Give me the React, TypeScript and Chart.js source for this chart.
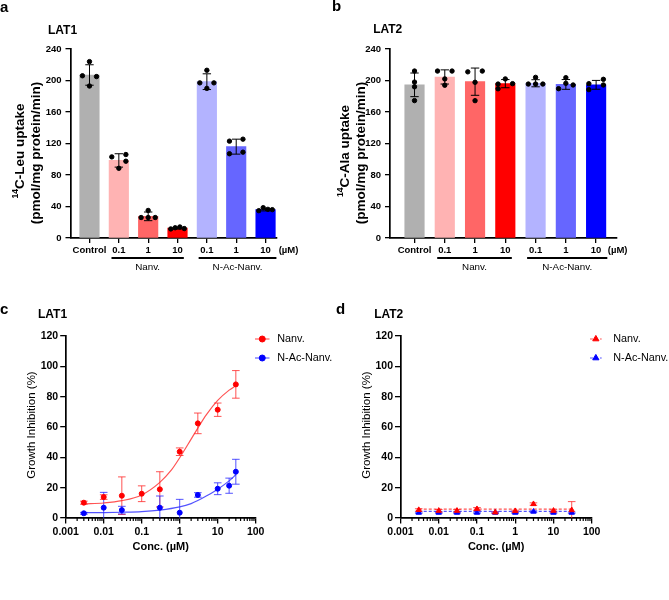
import React, { useEffect, useRef } from "react";
import { Chart, registerables } from "chart.js";

Chart.register(...registerables);

const FAMILY = "'Liberation Sans', Arial, Helvetica, sans-serif";
const fnt = (size: number, bold = true) => `${bold ? "bold " : ""}${size}px ${FAMILY}`;

// ---------------- data: panels a & b ----------------
const CATEGORIES = ["Control", "0.1", "1", "10", "0.1", "1", "10"];
const GROUP_LABELS = ["Nanv.", "N-Ac-Nanv."];
const UNIT_LABEL = "(µM)";
const BAR_COLORS = ["#b0b0b0", "#ffb3b3", "#ff6666", "#ff0000", "#b3b3ff", "#6666ff", "#0000ff"];

const A_MEAN = [207, 98.5, 27.5, 12.5, 198.5, 116, 36];
const A_SD = [13, 8.5, 5.5, 1.2, 10, 9.5, 1.6];
const A_POINTS = [
  [224, 206, 205, 193],
  [103, 106, 97.5, 88.5],
  [35, 26, 26, 26],
  [11.5, 13, 14, 12],
  [213, 197, 197, 190],
  [123, 125.5, 107, 109],
  [34.7, 38.5, 36.4, 36],
];
const A_JITTER = [
  [0, -0.24, 0.24, 0],
  [-0.24, 0.24, 0.24, 0],
  [0, -0.24, 0, 0.24],
  [-0.23, -0.08, 0.08, 0.23],
  [0, -0.24, 0.24, 0],
  [-0.23, 0.23, -0.23, 0.23],
  [-0.23, -0.08, 0.08, 0.23],
];

const B_MEAN = [194.5, 204.5, 198.5, 196, 196.5, 195, 194.5];
const B_SD = [15, 9, 17.3, 5.2, 4.5, 6.2, 5.6];
const B_POINTS = [
  [212, 198, 192, 174.5],
  [212, 212, 202, 194],
  [211, 212, 197.7, 174.4],
  [202, 196, 195.5, 189.5],
  [204, 195.5, 195.5, 195.5],
  [203.6, 196.4, 194.3, 189.6],
  [201.5, 196, 194.3, 188.4],
];
const B_JITTER = [
  [0, 0, 0, 0],
  [-0.24, 0.24, 0, 0],
  [-0.24, 0.24, 0, 0],
  [0, 0.24, -0.24, -0.24],
  [0, -0.24, 0, 0.24],
  [0, 0, 0.24, -0.24],
  [0.24, -0.24, 0.24, -0.24],
];

// ---------------- data: panels c & d ----------------
const LOG_TICKS = [0.001, 0.01, 0.1, 1, 10, 100];
const LOG_TICK_LABELS = ["0.001", "0.01", "0.1", "1", "10", "100"];
const MINOR_MULTIPLES = [2, 3, 4, 5, 6, 7, 8, 9];
const SERIES_LABELS = ["Nanv.", "N-Ac-Nanv."];

const C_NANV_CONC = [0.003, 0.01, 0.03, 0.1, 0.3, 1, 3, 10, 30];
const C_NANV = [10.1, 13.8, 14.7, 16, 18.9, 43.7, 62.4, 71.4, 88.1];
const C_NANV_SD = [1, 1.5, 12.4, 5.2, 11.6, 2.5, 6.8, 4.4, 9.1];
const C_NANV_FIT_X = [0.003, 0.01, 0.03, 0.1, 0.3, 0.6, 1, 2, 3, 5, 10, 20, 30];
const C_NANV_FIT_Y = [9.3, 9.9, 11.4, 15.2, 23.5, 31.5, 39.7, 52, 59.3, 68, 77.5, 84.3, 87.2];

const C_NAC_CONC = [0.003, 0.01, 0.03, 0.3, 1, 3, 10, 20, 30];
const C_NAC = [3.1, 6.8, 5.2, 6.8, 3.5, 15.2, 19.3, 21.3, 30.5];
const C_NAC_SD = [0.6, 10.1, 2.5, 7.7, 8.8, 1.5, 3.9, 5, 8.2];
const C_NAC_FIT_X = [0.003, 0.01, 0.03, 0.1, 0.3, 1, 2, 3, 5, 10, 20, 30];
const C_NAC_FIT_Y = [3.5, 3.6, 3.8, 4.2, 5.2, 7.3, 9.5, 11.5, 14.5, 19, 24.5, 28.5];

const D_CONC = [0.003, 0.01, 0.03, 0.1, 0.3, 1, 3, 10, 30];
const D_NANV = [5.3, 4.8, 4.8, 5.9, 3.7, 4.6, 9.2, 4.8, 5.2];
const D_NANV_SD = [0.8, 0.8, 0.8, 1, 0.5, 0.5, 0.8, 0.6, 5.6];
const D_NAC = [3.5, 3.5, 3.5, 3.5, 3.5, 3.5, 4.2, 3.5, 3.5];
const D_NAC_SD = [0.4, 0.4, 0.4, 0.4, 0.4, 0.4, 0.5, 0.4, 0.4];
const D_NANV_FIT_X = [0.003, 30];
const D_NANV_FIT_Y = [5.9, 5.9];
const D_NAC_FIT_X = [0.003, 30];
const D_NAC_FIT_Y = [4.4, 4.4];

// ---------------- helpers ----------------
function text(ctx: CanvasRenderingContext2D, s: string, x: number, y: number, font: string, align: CanvasTextAlign = "center", color = "#000") {
  ctx.save();
  ctx.font = font;
  ctx.fillStyle = color;
  ctx.textAlign = align;
  ctx.textBaseline = "middle";
  ctx.fillText(s, x, y);
  ctx.restore();
}

function vtext(ctx: CanvasRenderingContext2D, parts: { s: string; font: string; dy?: number }[], cx: number, cy: number) {
  ctx.save();
  ctx.translate(cx, cy);
  ctx.rotate(-Math.PI / 2);
  ctx.textBaseline = "middle";
  ctx.textAlign = "left";
  ctx.fillStyle = "#000";
  let total = 0;
  const ws = parts.map((p) => {
    ctx.font = p.font;
    const w = ctx.measureText(p.s).width;
    total += w;
    return w;
  });
  let x = -total / 2;
  parts.forEach((p, i) => {
    ctx.font = p.font;
    ctx.fillText(p.s, x, p.dy || 0);
    x += ws[i];
  });
  ctx.restore();
}

function errBar(ctx: CanvasRenderingContext2D, px: number, pTop: number, pBot: number, half: number, color: string, lw: number) {
  ctx.save();
  ctx.strokeStyle = color;
  ctx.lineWidth = lw;
  ctx.beginPath();
  ctx.moveTo(px, pTop);
  ctx.lineTo(px, pBot);
  ctx.moveTo(px - half, pTop);
  ctx.lineTo(px + half, pTop);
  ctx.moveTo(px - half, pBot);
  ctx.lineTo(px + half, pBot);
  ctx.stroke();
  ctx.restore();
}

function marker(ctx: CanvasRenderingContext2D, style: string, x: number, y: number, r: number, color: string) {
  ctx.save();
  ctx.fillStyle = color;
  ctx.strokeStyle = color;
  ctx.lineWidth = 1;
  ctx.beginPath();
  if (style === "triangle") {
    ctx.moveTo(x, y - r);
    ctx.lineTo(x + 0.866 * r, y + 0.5 * r);
    ctx.lineTo(x - 0.866 * r, y + 0.5 * r);
    ctx.closePath();
  } else {
    ctx.arc(x, y, r, 0, Math.PI * 2);
  }
  ctx.fill();
  ctx.stroke();
  ctx.restore();
}

const W = 669;
const H = 600;

// ---------------- bar panel ----------------
interface BarSpec {
  letter: string; letterX: number; letterY: number;
  title: string; titleX: number; titleY: number;
  ySup: string; yMain: string; yLine2: string;
  yX1: number; yY1: number; yX2: number; yY2: number;
  left: number; right: number; top: number; bottom: number;
  xMin: number; xMax: number; barWidth: number;
  mean: number[]; sd: number[]; points: number[][]; jitter: number[][];
  groupFrom: number[]; groupTo: number[]; groupLineY: number; groupLabelY: number;
  unitDx: number;
}

function buildBar(canvas: HTMLCanvasElement, s: BarSpec): Chart {
  const yW = 60;
  const xH = 40;
  const tickFont = { family: FAMILY, size: 9.5, weight: "bold" as const };
  const overlay = {
    id: "barOverlay" + s.letter,
    afterDatasetDraw(chart: any, args: any) {
      if (args.index !== 0) return;
      const ctx = chart.ctx as CanvasRenderingContext2D;
      const xs = chart.scales.x;
      const ys = chart.scales.y;
      s.mean.forEach((m, i) => {
        errBar(ctx, xs.getPixelForValue(i), ys.getPixelForValue(m + s.sd[i]), ys.getPixelForValue(m - s.sd[i]), 4.2, "#000", 1);
      });
    },
    afterDraw(chart: any) {
      const ctx = chart.ctx as CanvasRenderingContext2D;
      const xs = chart.scales.x;
      text(ctx, s.letter, s.letterX, s.letterY, fnt(15), "left");
      text(ctx, s.title, s.titleX, s.titleY, fnt(12));
      vtext(ctx, [
        { s: s.ySup, font: fnt(8.5), dy: -4.5 },
        { s: s.yMain, font: fnt(13.5) },
      ], s.yX1, s.yY1);
      vtext(ctx, [{ s: s.yLine2, font: fnt(13.5) }], s.yX2, s.yY2);
      const lblY = chart.chartArea.bottom + 12.7;
      text(ctx, UNIT_LABEL, xs.getPixelForValue(CATEGORIES.length - 1) + s.unitDx, lblY, fnt(9.5));
      GROUP_LABELS.forEach((g, k) => {
        const x0 = xs.getPixelForValue(s.groupFrom[k]);
        const x1 = xs.getPixelForValue(s.groupTo[k]);
        ctx.save();
        ctx.strokeStyle = "#000";
        ctx.lineWidth = 2;
        ctx.beginPath();
        ctx.moveTo(x0, s.groupLineY);
        ctx.lineTo(x1, s.groupLineY);
        ctx.stroke();
        ctx.restore();
        text(ctx, g, (x0 + x1) / 2, s.groupLabelY, fnt(9.8, false));
      });
    },
  };
  return new Chart(canvas, {
    type: "bar",
    data: {
      datasets: [
        {
          type: "bar",
          data: s.mean.map((v, i) => ({ x: i, y: v })),
          backgroundColor: BAR_COLORS,
          borderWidth: 0,
          barThickness: s.barWidth,
          order: 2,
        } as any,
        {
          type: "scatter",
          data: s.points.flatMap((pts, i) => pts.map((v, j) => ({ x: i + s.jitter[i][j], y: v }))),
          backgroundColor: "#000",
          borderColor: "#000",
          pointRadius: 2.2,
          borderWidth: 1,
          order: 1,
          clip: false,
        } as any,
      ],
    },
    options: {
      animation: false,
      responsive: false,
      maintainAspectRatio: false,
      events: [],
      layout: { padding: { left: s.left - yW, right: W - s.right, top: s.top, bottom: H - s.bottom - xH } },
      plugins: { legend: { display: false }, tooltip: { enabled: false }, title: { display: false } },
      scales: {
        x: {
          type: "linear",
          min: s.xMin,
          max: s.xMax,
          offset: false,
          afterBuildTicks: (sc: any) => {
            sc.ticks = CATEGORIES.map((_, i) => ({ value: i }));
          },
          afterFit: (sc: any) => {
            sc.height = xH;
          },
          ticks: {
            callback: (_v: any, i: number) => CATEGORIES[i],
            autoSkip: false,
            maxRotation: 0,
            minRotation: 0,
            color: "#000",
            font: tickFont,
            padding: 2,
          },
          grid: { drawOnChartArea: false, drawTicks: true, tickLength: 5, color: "#000", lineWidth: 1.3, offset: false },
          border: { display: true, color: "#000", width: 1.7 },
        } as any,
        y: {
          type: "linear",
          min: 0,
          max: 240,
          afterFit: (sc: any) => {
            sc.width = yW;
          },
          ticks: { stepSize: 40, color: "#000", font: tickFont, padding: 4 },
          grid: { drawOnChartArea: false, drawTicks: true, tickLength: 5, color: "#000", lineWidth: 1.3 },
          border: { display: true, color: "#000", width: 1.7 },
        } as any,
      },
    },
    plugins: [overlay],
  } as any);
}

// ---------------- dose-response panel ----------------
interface LineSeries {
  label: string; conc: number[]; mean: number[]; sd: number[]; fitX: number[]; fitY: number[];
  color: string; soft: string; style: string; radius: number; dash: number[];
}
interface LineSpec {
  letter: string; letterX: number; letterY: number;
  title: string; titleX: number; titleY: number;
  yTitleX: number; yTitleY: number; xTitleY: number;
  left: number; right: number; top: number; bottom: number;
  series: LineSeries[];
  legLine0: number; legLine1: number; legText: number; legY0: number; legDy: number;
}

function buildLine(canvas: HTMLCanvasElement, s: LineSpec): Chart {
  const yW = 60;
  const xH = 40;
  const tickFont = { family: FAMILY, size: 10.5, weight: "bold" as const };
  const overlay = {
    id: "lineOverlay" + s.letter,
    beforeDatasetsDraw(chart: any) {
      const ctx = chart.ctx as CanvasRenderingContext2D;
      const xs = chart.scales.x;
      const ys = chart.scales.y;
      const a = chart.chartArea;
      ctx.save();
      ctx.beginPath();
      ctx.rect(a.left - 20, a.top - 20, a.right - a.left + 40, a.bottom - a.top + 20);
      ctx.clip();
      s.series.forEach((se) => {
        se.conc.forEach((c, i) => {
          const px = xs.getPixelForValue(c);
          errBar(ctx, px, ys.getPixelForValue(se.mean[i] + se.sd[i]), ys.getPixelForValue(se.mean[i] - se.sd[i]), 3.8, se.soft, 1);
        });
      });
      ctx.restore();
    },
    afterDraw(chart: any) {
      const ctx = chart.ctx as CanvasRenderingContext2D;
      const xs = chart.scales.x;
      const a = chart.chartArea;
      // minor ticks
      ctx.save();
      ctx.strokeStyle = "#000";
      ctx.lineWidth = 1.2;
      ctx.beginPath();
      for (let d = 0; d < LOG_TICKS.length - 1; d++) {
        MINOR_MULTIPLES.forEach((m) => {
          const px = xs.getPixelForValue(LOG_TICKS[d] * m);
          ctx.moveTo(px, a.bottom);
          ctx.lineTo(px, a.bottom + 3);
        });
      }
      ctx.stroke();
      ctx.restore();
      text(ctx, s.letter, s.letterX, s.letterY, fnt(15), "left");
      text(ctx, s.title, s.titleX, s.titleY, fnt(12));
      vtext(ctx, [{ s: "Growth Inhibition (%)", font: fnt(11.5, false) }], s.yTitleX, s.yTitleY);
      text(ctx, "Conc. (µM)", (a.left + a.right) / 2, s.xTitleY, fnt(11));
      // legend
      s.series.forEach((se, k) => {
        const y = s.legY0 + k * s.legDy;
        ctx.save();
        ctx.strokeStyle = se.soft;
        ctx.lineWidth = 1.1;
        ctx.setLineDash(se.dash);
        ctx.beginPath();
        ctx.moveTo(s.legLine0, y);
        ctx.lineTo(s.legLine1, y);
        ctx.stroke();
        ctx.restore();
        marker(ctx, se.style, (s.legLine0 + s.legLine1) / 2, y, se.radius, se.color);
        text(ctx, se.label, s.legText, y, fnt(10.8, false), "left");
      });
    },
  };
  const datasets: any[] = [];
  s.series.forEach((se) => {
    datasets.push({
      type: "line",
      data: se.fitX.map((x, i) => ({ x, y: se.fitY[i] })),
      borderColor: se.soft,
      borderWidth: 1.2,
      borderDash: se.dash,
      pointRadius: 0,
      fill: false,
      cubicInterpolationMode: "monotone",
      order: 3,
    });
    datasets.push({
      type: "line",
      showLine: false,
      data: se.conc.map((x, i) => ({ x, y: se.mean[i] })),
      pointStyle: se.style,
      pointRadius: se.radius - 0.5,
      borderWidth: 1,
      backgroundColor: se.color,
      borderColor: se.color,
      order: 1,
      clip: false,
    });
  });
  return new Chart(canvas, {
    type: "line",
    data: { datasets },
    options: {
      animation: false,
      responsive: false,
      maintainAspectRatio: false,
      events: [],
      layout: { padding: { left: s.left - yW, right: W - s.right, top: s.top, bottom: H - s.bottom - xH } },
      plugins: { legend: { display: false }, tooltip: { enabled: false }, title: { display: false } },
      scales: {
        x: {
          type: "logarithmic",
          min: 0.001,
          max: 100,
          offset: false,
          afterBuildTicks: (sc: any) => {
            sc.ticks = LOG_TICKS.map((v) => ({ value: v, major: true }));
          },
          afterFit: (sc: any) => {
            sc.height = xH;
          },
          ticks: {
            callback: (_v: any, i: number) => LOG_TICK_LABELS[i],
            autoSkip: false,
            maxRotation: 0,
            minRotation: 0,
            color: "#000",
            font: tickFont,
            padding: 2,
          },
          grid: { drawOnChartArea: false, drawTicks: true, tickLength: 5.5, color: "#000", lineWidth: 1.3 },
          border: { display: true, color: "#000", width: 1.7 },
        } as any,
        y: {
          type: "linear",
          min: 0,
          max: 120,
          afterFit: (sc: any) => {
            sc.width = yW;
          },
          ticks: { stepSize: 20, color: "#000", font: tickFont, padding: 2 },
          grid: { drawOnChartArea: false, drawTicks: true, tickLength: 5.5, color: "#000", lineWidth: 1.3 },
          border: { display: true, color: "#000", width: 1.7 },
        } as any,
      },
    },
    plugins: [overlay],
  } as any);
}

// ---------------- specs ----------------
const SPEC_A: BarSpec = {
  letter: "a", letterX: 0, letterY: 8,
  title: "LAT1", titleX: 62.5, titleY: 31,
  ySup: "14", yMain: "C-Leu uptake", yLine2: "(pmol/mg protein/min)",
  yX1: 20, yY1: 151, yX2: 36.7, yY2: 153,
  left: 70.5, right: 276.7, top: 49, bottom: 238,
  xMin: -0.647, xMax: 6.38, barWidth: 19.5,
  mean: A_MEAN, sd: A_SD, points: A_POINTS, jitter: A_JITTER,
  groupFrom: [0.75, 3.72], groupTo: [3.215, 6.37], groupLineY: 258, groupLabelY: 267,
  unitDx: 23,
};

const SPEC_B: BarSpec = {
  letter: "b", letterX: 332, letterY: 7,
  title: "LAT2", titleX: 387.7, titleY: 30,
  ySup: "14", yMain: "C-Ala uptake", yLine2: "(pmol/mg protein/min)",
  yX1: 345, yY1: 151, yX2: 361.7, yY2: 153,
  left: 390, right: 616.7, top: 49, bottom: 238,
  xMin: -0.81, xMax: 6.68, barWidth: 19.5,
  mean: B_MEAN, sd: B_SD, points: B_POINTS, jitter: B_JITTER,
  groupFrom: [0.75, 3.72], groupTo: [3.215, 6.37], groupLineY: 258, groupLabelY: 267,
  unitDx: 21.5,
};

const SPEC_C: LineSpec = {
  letter: "c", letterX: 0, letterY: 310,
  title: "LAT1", titleX: 52.5, titleY: 315,
  yTitleX: 31.7, yTitleY: 425, xTitleY: 547,
  left: 65.7, right: 255.7, top: 336, bottom: 518,
  series: [
    { label: SERIES_LABELS[0], conc: C_NANV_CONC, mean: C_NANV, sd: C_NANV_SD, fitX: C_NANV_FIT_X, fitY: C_NANV_FIT_Y, color: "#ff0000", soft: "rgba(255,40,40,0.8)", style: "circle", radius: 3, dash: [] },
    { label: SERIES_LABELS[1], conc: C_NAC_CONC, mean: C_NAC, sd: C_NAC_SD, fitX: C_NAC_FIT_X, fitY: C_NAC_FIT_Y, color: "#0000ff", soft: "rgba(40,40,255,0.8)", style: "circle", radius: 3, dash: [] },
  ],
  legLine0: 255, legLine1: 269.5, legText: 277.3, legY0: 339, legDy: 19,
};

const SPEC_D: LineSpec = {
  letter: "d", letterX: 336, letterY: 310,
  title: "LAT2", titleX: 388.7, titleY: 315,
  yTitleX: 367.3, yTitleY: 425, xTitleY: 547,
  left: 400.5, right: 591.7, top: 336, bottom: 518,
  series: [
    { label: SERIES_LABELS[0], conc: D_CONC, mean: D_NANV, sd: D_NANV_SD, fitX: D_NANV_FIT_X, fitY: D_NANV_FIT_Y, color: "#ff0000", soft: "rgba(255,40,40,0.8)", style: "triangle", radius: 3.6, dash: [3, 2] },
    { label: SERIES_LABELS[1], conc: D_CONC, mean: D_NAC, sd: D_NAC_SD, fitX: D_NAC_FIT_X, fitY: D_NAC_FIT_Y, color: "#0000ff", soft: "rgba(40,40,255,0.8)", style: "triangle", radius: 3.6, dash: [3, 2] },
  ],
  legLine0: 590, legLine1: 601.7, legText: 613.3, legY0: 339, legDy: 19,
};

function Panel({ build }: { build: (c: HTMLCanvasElement) => Chart }) {
  const ref = useRef<HTMLCanvasElement>(null);
  useEffect(() => {
    const chart = build(ref.current as HTMLCanvasElement);
    return () => chart.destroy();
  }, [build]);
  return (
    <canvas
      ref={ref}
      width={W}
      height={H}
      style={{ position: "absolute", left: 0, top: 0, width: W, height: H }}
    />
  );
}

const buildA = (c: HTMLCanvasElement) => buildBar(c, SPEC_A);
const buildB = (c: HTMLCanvasElement) => buildBar(c, SPEC_B);
const buildC = (c: HTMLCanvasElement) => buildLine(c, SPEC_C);
const buildD = (c: HTMLCanvasElement) => buildLine(c, SPEC_D);

export default function App() {
  return (
    <div style={{ position: "absolute", left: 0, top: 0, width: W, height: H, background: "#fff" }}>
      <Panel build={buildA} />
      <Panel build={buildB} />
      <Panel build={buildC} />
      <Panel build={buildD} />
    </div>
  );
}
